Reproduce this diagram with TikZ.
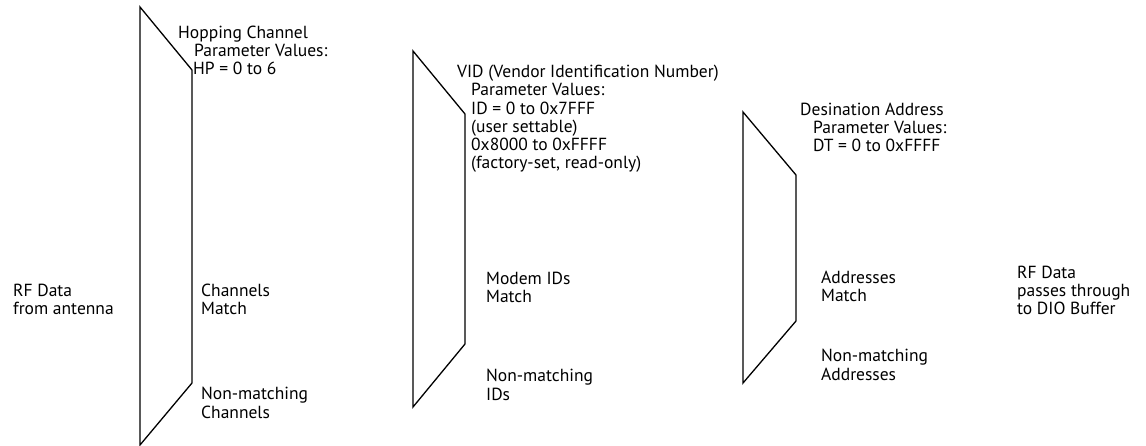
\documentclass[tikz,border=0pt]{standalone}
\usepackage{fontspec}
\setmainfont{PT Sans}
\usetikzlibrary{positioning}

\begin{document}
\begin{tikzpicture}[
    x=1pt, y=-1pt,
    funnel/.style={draw=black, line width=1.3pt, line join=miter},
    lbl/.style={anchor=base west, inner sep=0pt, align=left, font=\fontsize{17.5}{18.3}\selectfont}
  ]
  \useasboundingbox (0,0) rectangle (1146,446);

  % Filter stages
  \draw[funnel] (140,7) -- (192,70) -- (192,383) -- (140,445) -- cycle;
  \draw[funnel] (413,51) -- (465,114) -- (465,344) -- (413,407) -- cycle;
  \draw[funnel] (743,112) -- (796,175) -- (796,321) -- (743,383) -- cycle;

  % Input (node base = last line)
  \node[lbl] (rfin) at (13,315) {RF Data\\from antenna};

  % Hopping channel stage
  \node[lbl] (hop) at (178,75) {Hopping Channel\\\hspace*{16pt}Parameter Values:\\\hspace*{15pt}HP = 0 to 6};
  \node[lbl] (chmatch) at (201,315) {Channels\\Match};
  \node[lbl] (chno) at (201,418) {Non-matching\\Channels};

  % VID stage
  \node[lbl] (vid) at (457,169) {VID (Vendor Identification Number)\\\hspace*{14pt}Parameter Values:\\\hspace*{14pt}ID = 0 to 0x7FFF\\\hspace*{14pt}(user settable)\\\hspace*{14pt}0x8000 to 0xFFFF\\\hspace*{14pt}(factory-set, read-only)};
  \node[lbl] (idmatch) at (486,303) {Modem IDs\\Match};
  \node[lbl] (idno) at (486,400) {Non-matching\\IDs};

  % Destination address stage
  \node[lbl] (dest) at (800,152) {Desination Address\\\hspace*{13pt}Parameter Values:\\\hspace*{13pt}DT = 0 to 0xFFFF};
  \node[lbl] (admatch) at (821,302) {Addresses\\Match};
  \node[lbl] (adno) at (821,380) {Non-matching\\Addresses};

  % Output
  \node[lbl] (rfout) at (1017,315) {RF Data\\passes through\\to DIO Buffer};
\end{tikzpicture}
\end{document}
